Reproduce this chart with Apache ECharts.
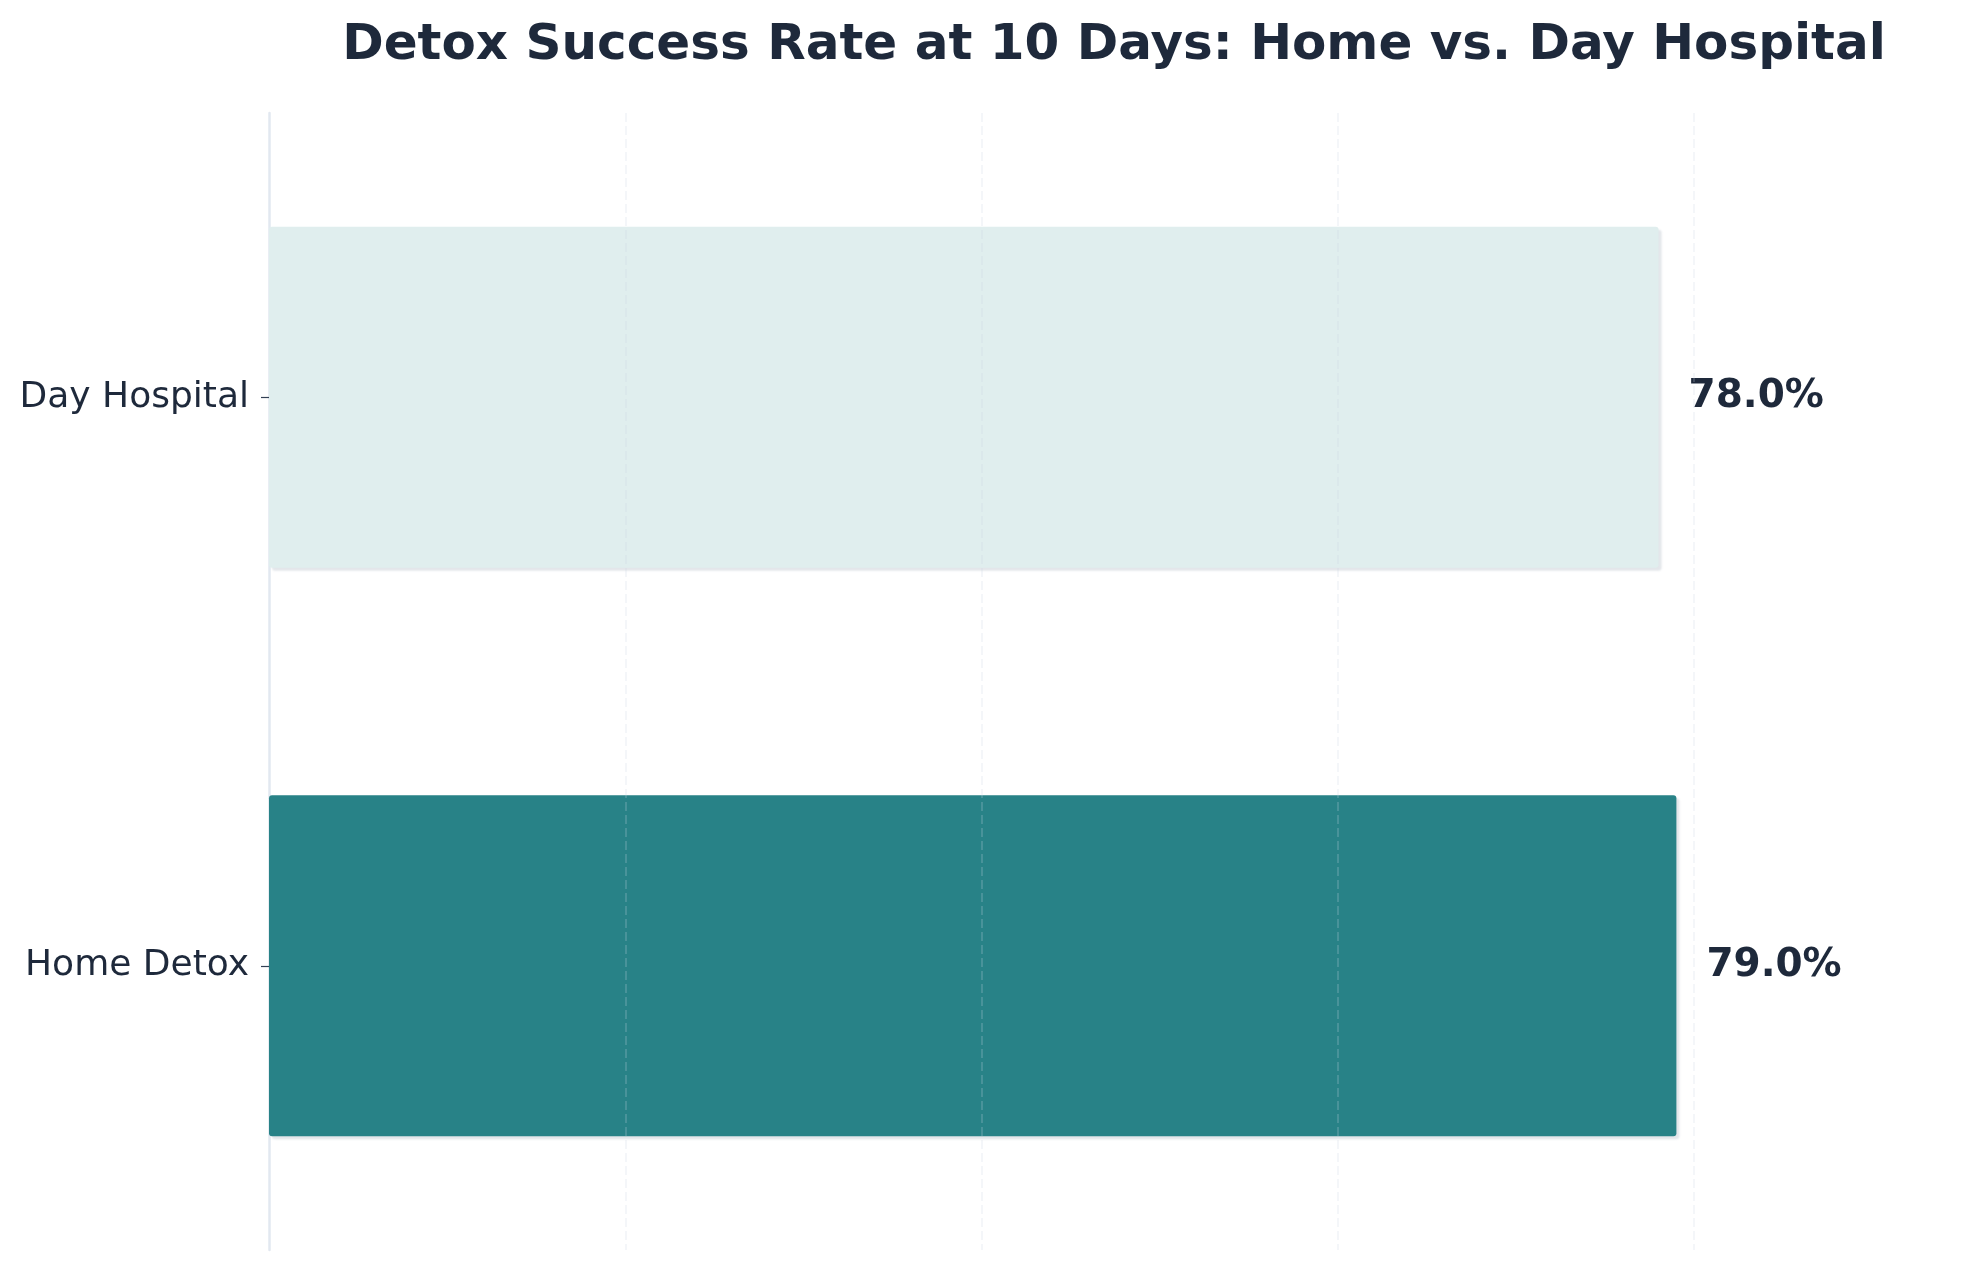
<!DOCTYPE html>
<html>
<head>
<meta charset="utf-8">
<script src="https://cdn.jsdelivr.net/npm/echarts@6/dist/echarts.min.js"></script>
<style>
  html, body { margin: 0; padding: 0; background: #ffffff; }
  #chart { width: 1979px; height: 1268px; }
</style>
</head>
<body>
<div id="chart"></div>
<script>
// data, bottom to top
var categories = ['Home Detox', 'Day Hospital'];
var successRates = [79.0, 78.0];
var barColors = ['#288287', '#e0eeee'];
var titleText = 'Detox Success Rate at 10 Days: Home vs. Day Hospital';

var chart = echarts.init(document.getElementById('chart'));

var font = 'DejaVu Sans';
var ink = '#1e293b';

var option = {
  backgroundColor: '#ffffff',
  animation: false,
  title: {
    text: titleText,
    left: 1109,
    textAlign: 'center',
    top: 16,
    textStyle: { fontFamily: font, fontWeight: 'bold', fontSize: 50, color: ink }
  },
  grid: { left: 269, right: 14, top: 113, bottom: 18 },
  xAxis: {
    type: 'value',
    min: 0,
    max: 95.2,
    interval: 20,
    z: 3,
    axisLine: { show: false },
    axisTick: { show: false },
    axisLabel: { show: false },
    splitLine: {
      show: true,
      showMinLine: false,
      showMaxLine: false,
      lineStyle: { color: 'rgba(203,213,225,0.28)', width: 1.5, type: [9, 4] }
    }
  },
  yAxis: {
    type: 'category',
    data: categories,
    axisLine: { show: true, lineStyle: { color: '#e2e8f0', width: 2.5 } },
    axisTick: { show: true, alignWithLabel: true, length: 8, lineStyle: { color: '#334155', width: 1.2 } },
    axisLabel: { fontFamily: font, fontSize: 36, color: ink, margin: 20 },
    splitLine: { show: false }
  },
  series: [{
    type: 'bar',
    barWidth: '60%',
    data: successRates.map(function (v, i) {
      return { value: v, itemStyle: { color: barColors[i] } };
    }),
    itemStyle: {
      borderRadius: 3,
      shadowColor: 'rgba(100,116,139,0.18)',
      shadowBlur: 2,
      shadowOffsetX: 3,
      shadowOffsetY: 3
    },
    label: {
      show: true,
      position: 'right',
      distance: 30,
      formatter: function (p) { return p.value.toFixed(1) + '%'; },
      fontFamily: font,
      fontWeight: 'bold',
      fontSize: 39,
      color: ink
    }
  }]
};

chart.setOption(option);
</script>
</body>
</html>
